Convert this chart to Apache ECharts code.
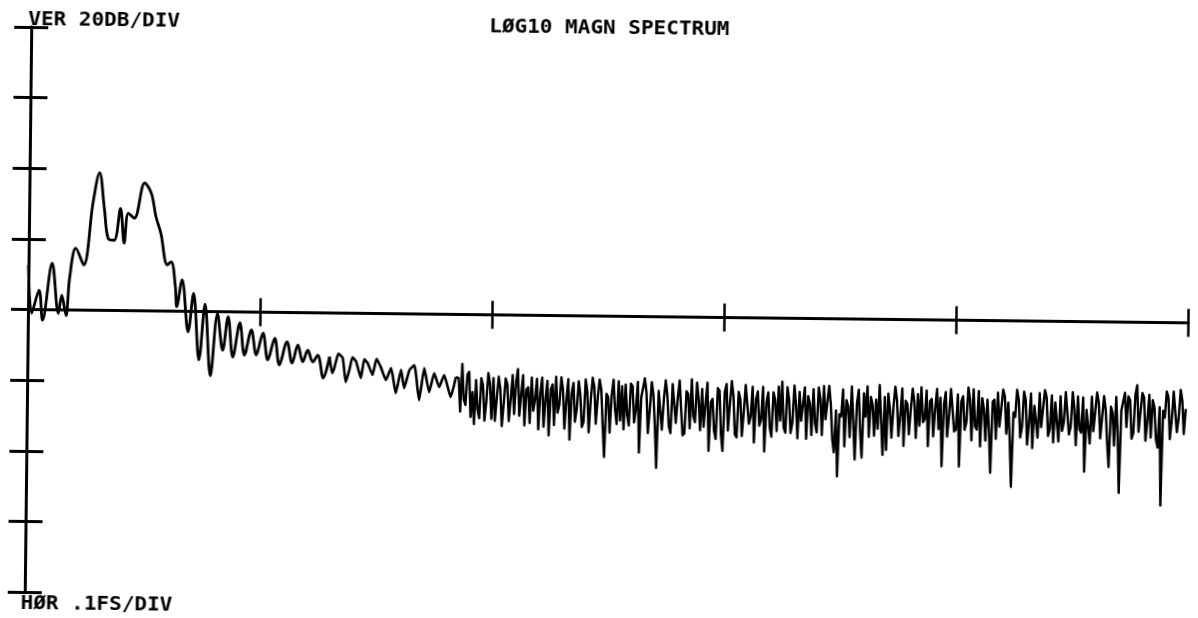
<!DOCTYPE html>
<html><head><meta charset="utf-8">
<script src="https://cdn.jsdelivr.net/npm/echarts@6/dist/echarts.min.js"></script>
<style>
html,body{margin:0;padding:0;background:#fff;overflow:hidden;width:1198px;height:618px;}
#chart{position:absolute;left:0;top:0;width:1198px;height:618px;transform-origin:28px 309.5px;transform:rotate(0.66deg);}
</style></head><body><div id="chart"></div>
<script>
// Labels
const titleText = 'LØG10 MAGN SPECTRUM';
const verLabel = 'VER 20DB/DIV';
const horLabel = 'HØR .1FS/DIV';

// Axes (fraction of sampling freq, dB)
const xMin = 0, xMax = 0.5, xStep = 0.1;
const yMin = -80, yMax = 80, yStep = 20;

// Main lobe / ripple region: frequency (FS) and level (dB)
const lobeFreq = [0, 0.0016, 0.0047, 0.0063, 0.0102, 0.0131, 0.0145, 0.0164, 0.0178, 0.0203,
  0.0238, 0.0275, 0.0302, 0.0325, 0.0342, 0.0368, 0.0394, 0.0411, 0.0428, 0.0454,
  0.0497, 0.0526, 0.0547, 0.0569, 0.0598, 0.0615, 0.0634, 0.0641, 0.0663, 0.0691,
  0.0713, 0.0739, 0.0763, 0.0789, 0.0817, 0.0841, 0.0863, 0.0885, 0.0914, 0.0935,
  0.0964, 0.0986, 0.1014, 0.1036, 0.1065, 0.1086, 0.1118, 0.1141, 0.1165, 0.1187,
  0.1208, 0.1230, 0.1251, 0.1276, 0.1302];
const lobeDb = [12.6, -1.0, 5.5, -3.0, 13.2, -1.0, 4.1, -1.6, 9.2, 17.5,
  12.8, 30.4, 39.0, 28.4, 20.4, 19.9, 28.9, 19.1, 27.6, 26.2,
  36.2, 33.3, 26.7, 22.0, 13.1, 14.0, 7.0, 1.3, 8.9, -5.8,
  5.1, -13.7, 2.1, -18.2, -0.6, -10.9, -1.4, -12.8, -3.1, -12.2,
  -5.1, -12.1, -5.9, -13.5, -7.3, -14.9, -8.3, -14.3, -9.2, -13.9,
  -10.6, -13.9, -12.0, -18.4, -12.4];

// Transition region (rougher ripple): frequency (FS) and level (dB)
const roughFreq = [0.1302, 0.1314, 0.1323, 0.1340, 0.1359, 0.1373, 0.1388, 0.1401, 0.1417, 0.1438,
  0.1452, 0.1467, 0.1488, 0.1505, 0.1525, 0.1546, 0.1568, 0.1589, 0.1611, 0.1625,
  0.1647, 0.1668, 0.1690, 0.1711, 0.1733, 0.1754, 0.1776, 0.1797, 0.1826, 0.1848];
const roughDb = [-12.4, -17.0, -15.6, -11.5, -12.7, -19.5, -16.1, -12.5, -13.7, -18.3,
  -13.0, -14.1, -17.4, -12.8, -15.4, -18.8, -15.4, -22.5, -15.9, -21.0,
  -15.9, -14.5, -24.4, -15.3, -22.1, -16.7, -20.6, -17.2, -23.4, -17.7];

// Noise-floor region: evenly spaced bins starting at noiseStartFreq
const noiseStartFreq = 0.186;
const noiseStepFreq = 0.00075;
const noiseDb = [
  -18.0, -27.5, -14.0, -24.0, -25.6, -17.0, -16.2, -29.0, -21.9, -31.0, -18.5, -27.0, -29.3, -18.0, -19.9, -30.0, -24.7, -16.5, -19.4, -29.5,
  -17.9, -30.0, -23.5, -17.5, -21.0, -31.5, -25.2, -18.0, -19.5, -30.0, -23.8, -17.0, -28.0, -19.0, -15.3, -28.5, -22.4, -17.0, -31.2, -21.0,
  -20.4, -30.5, -17.6, -27.0, -23.8, -18.0, -32.3, -22.0, -17.6, -31.5, -23.8, -18.5, -34.0, -21.0, -19.5, -31.0, -17.3, -27.5, -25.2, -17.5,
  -21.0, -32.0, -23.8, -18.0, -35.1, -22.0, -19.0, -30.0, -26.6, -18.5, -22.4, -31.5, -30.0, -18.0, -21.5, -33.0, -23.8, -17.5, -20.1, -30.5,
  -23.2, -18.0, -20.7, -31.0, -39.9, -22.0, -22.9, -33.0, -22.4, -18.0, -26.3, -30.5, -18.4, -29.5, -19.8, -32.0, -19.3, -28.0, -30.9, -19.0,
  -19.8, -30.0, -26.3, -18.5, -38.5, -23.0, -23.5, -17.5, -21.5, -33.0, -26.3, -18.5, -22.1, -31.0, -42.8, -21.0, -20.7, -32.0, -23.5, -18.0,
  -22.1, -31.0, -32.9, -19.0, -19.3, -30.0, -22.9, -18.0, -26.3, -33.5, -32.9, -21.0, -21.8, -31.5, -17.6, -28.0, -29.7, -18.5, -23.1, -32.0,
  -20.3, -31.0, -24.5, -18.5, -37.8, -24.0, -23.1, -32.0, -34.4, -20.0, -20.8, -33.0, -37.8, -21.0, -18.8, -32.0, -24.5, -18.0, -22.2, -33.0,
  -33.9, -21.0, -23.1, -33.5, -26.8, -19.0, -19.4, -30.0, -27.9, -19.5, -35.3, -23.0, -20.8, -30.5, -28.8, -19.5, -37.8, -24.0, -21.1, -31.0,
  -33.6, -21.0, -23.1, -32.0, -19.4, -29.0, -18.0, -31.0, -32.4, -19.5, -23.1, -32.5, -29.6, -19.0, -24.5, -34.0, -20.8, -29.0, -29.3, -19.5,
  -34.1, -22.0, -24.2, -33.0, -20.0, -29.5, -32.2, -19.5, -22.8, -33.0, -19.1, -28.5, -28.5, -19.0, -24.2, -34.0, -37.8, -26.0, -44.6, -27.0,
  -27.6, -20.0, -36.1, -23.0, -24.8, -33.5, -19.1, -29.0, -39.8, -24.0, -20.0, -32.0, -39.2, -21.0, -27.6, -19.0, -33.3, -22.0, -24.2, -33.0,
  -22.8, -31.0, -18.6, -29.0, -38.4, -22.0, -37.0, -21.0, -25.6, -33.5, -24.8, -19.0, -22.8, -33.0, -27.3, -19.5, -35.8, -23.0, -23.9, -32.5,
  -25.4, -19.5, -23.4, -33.5, -21.1, -30.0, -19.1, -29.0, -28.2, -20.0, -35.8, -23.0, -22.4, -33.0, -25.2, -19.5, -30.9, -22.0, -41.4, -24.0,
  -20.4, -33.0, -27.2, -19.5, -19.5, -31.5, -30.9, -21.0, -41.4, -23.0, -21.5, -31.0, -28.9, -19.0, -22.4, -34.0, -19.5, -30.0, -30.9, -20.0,
  -35.7, -22.0, -25.2, -34.0, -22.4, -31.0, -43.1, -23.0, -22.4, -33.5, -20.4, -30.0, -30.0, -19.5, -21.5, -32.0, -23.2, -33.5, -47.0, -26.0,
  -27.2, -19.5, -22.4, -33.0, -30.0, -20.0, -22.4, -35.0, -28.9, -20.5, -36.0, -24.0, -23.8, -33.0, -20.4, -30.0, -30.0, -19.5, -21.5, -32.5,
  -30.6, -21.0, -34.3, -23.0, -23.5, -34.0, -21.2, -31.0, -28.6, -20.0, -20.1, -32.0, -29.7, -20.0, -24.9, -35.0, -21.2, -30.5, -31.4, -21.5,
  -42.5, -25.0, -24.9, -34.5, -21.2, -31.0, -30.6, -20.0, -22.9, -33.0, -32.6, -21.0, -24.9, -34.0, -41.1, -24.0, -25.8, -35.0, -21.2, -31.5,
  -48.4, -25.0, -24.9, -20.0, -29.7, -21.0, -22.1, -33.0, -31.4, -20.5, -17.8, -31.0, -30.6, -20.0, -21.2, -33.5, -27.8, -20.5, -32.6, -22.0,
  -24.1, -33.0, -35.4, -24.0, -51.8, -25.0, -26.9, -19.5, -21.2, -33.0, -27.8, -19.5, -19.8, -31.0, -26.9, -19.0, -22.1, -31.5, -24.4];

function pairs(xs, ys) {
  const out = [];
  for (let i = 0; i < Math.min(xs.length, ys.length); i++) out.push([xs[i], ys[i]]);
  return out;
}
const lobeData = pairs(lobeFreq, lobeDb);
const roughData = pairs(roughFreq, roughDb);
const noiseData = [roughData[roughData.length - 1]];
for (let i = 0; i < noiseDb.length; i++) noiseData.push([+(noiseStartFreq + i * noiseStepFreq).toFixed(5), noiseDb[i]]);

const ink = '#000';
const font = 'bold 20px "DejaVu Sans Mono", "Liberation Mono", monospace';

function xAxisDef(inside, idx) {
  return {
    type: 'value', min: xMin, max: xMax, interval: xStep, position: 'bottom',
    axisLine: { show: true, onZero: true, onZeroAxisIndex: idx, lineStyle: { color: ink, width: 3 } },
    axisTick: { show: true, inside: inside, length: 14, lineStyle: { color: ink, width: 2.5 } },
    axisLabel: { show: false }, splitLine: { show: false }
  };
}
function yAxisDef(inside) {
  return {
    type: 'value', min: yMin, max: yMax, interval: yStep, position: 'left', offset: 0,
    axisLine: { show: true, onZero: false, lineStyle: { color: ink, width: 3 } },
    axisTick: { show: true, inside: inside, length: 17, lineStyle: { color: ink, width: 3 } },
    axisLabel: { show: false }, splitLine: { show: false }
  };
}
function label(text, x, y) {
  return { type: 'text', x: x, y: y, scaleX: 1.05,
    style: { text: text, font: font, fill: ink, align: 'left', verticalAlign: 'top', textAlign: 'left', textVerticalAlign: 'top' } };
}
function lineSeries(data, smooth, width) {
  return { type: 'line', xAxisIndex: 0, yAxisIndex: 0, data: data,
    showSymbol: false, symbol: 'none', smooth: smooth,
    lineStyle: { color: ink, width: width, join: 'round' } };
}

const chart = echarts.init(document.getElementById('chart'), null, { renderer: 'canvas' });
chart.setOption({
  animation: false,
  backgroundColor: 'transparent',
  grid: { left: 28, top: 27, width: 1160, height: 565, containLabel: false },
  xAxis: [xAxisDef(true, 0), xAxisDef(false, 1)],
  yAxis: [yAxisDef(true), yAxisDef(false)],
  series: [
    lineSeries(lobeData, 0.35, 2.8),
    lineSeries(roughData, 0.15, 2.6),
    lineSeries(noiseData, false, 2.4)
  ],
  graphic: [
    label(verLabel, 25, 10),
    label(titleText, 486, 12),
    label(horLabel, 24, 594)
  ]
});
</script></body></html>
